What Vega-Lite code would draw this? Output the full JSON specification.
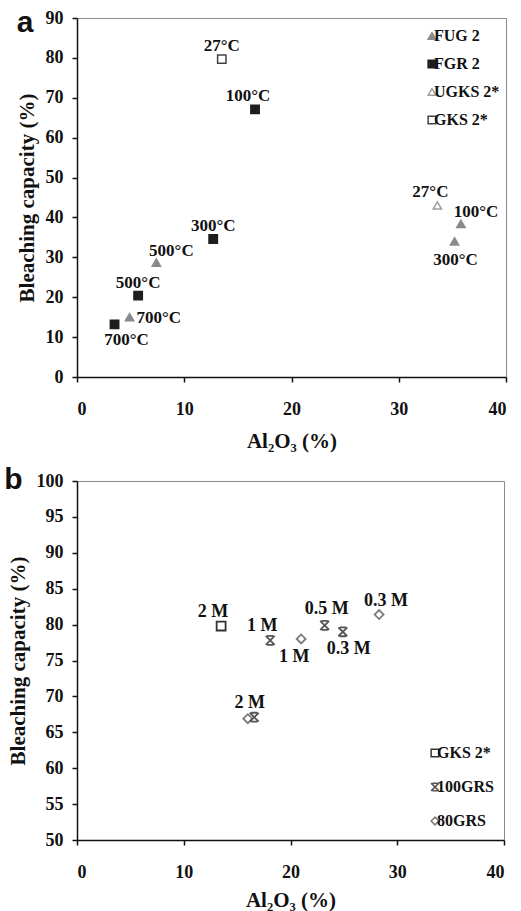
{
  "$schema": "https://vega.github.io/schema/vega-lite/v6.json",
  "background": "white",
  "padding": {"left": 3, "top": 7, "right": 0, "bottom": 0},
  "spacing": 12,
  "resolve": {
    "scale": {"shape": "independent", "fill": "independent", "stroke": "independent"},
    "legend": {"shape": "independent", "fill": "independent", "stroke": "independent"}
  },
  "config": {
    "view": {"stroke": "#8a8a8a", "strokeWidth": 1},
    "axis": {
      "grid": false,
      "domainColor": "#111",
      "domainWidth": 1.5,
      "tickColor": "#111",
      "tickWidth": 1.5,
      "tickSize": 5,
      "labelFont": "Liberation Serif",
      "labelFontWeight": "bold",
      "labelFontSize": 18,
      "labelColor": "#111",
      "titleFont": "Liberation Serif",
      "titleFontWeight": "bold",
      "titleFontSize": 21,
      "titleColor": "#111"
    },
    "legend": {
      "symbolSize": 60,
      "symbolStrokeWidth": 1.5,
      "labelFont": "Liberation Serif",
      "labelFontWeight": "bold",
      "labelFontSize": 16,
      "labelColor": "#111",
      "labelOffset": -6,
      "padding": 0
    },
    "text": {"font": "Liberation Serif", "fontSize": 17, "fontWeight": "bold", "color": "#111"}
  },
  "datasets": {
    "a": [
      {"series": "GKS 2*", "al2o3": 13.5, "bc": 79.7, "label": "27°C", "pos": "above"},
      {"series": "FGR 2", "al2o3": 16.6, "bc": 67.1, "label": "100°C", "pos": "aboveleft"},
      {"series": "FGR 2", "al2o3": 12.7, "bc": 34.6, "label": "300°C", "pos": "above"},
      {"series": "FGR 2", "al2o3": 5.7, "bc": 20.4, "label": "500°C", "pos": "above"},
      {"series": "FGR 2", "al2o3": 3.5, "bc": 13.2, "label": "700°C", "pos": "belowright"},
      {"series": "FUG 2", "al2o3": 7.4, "bc": 28.7, "label": "500°C", "pos": "aboveright"},
      {"series": "FUG 2", "al2o3": 4.9, "bc": 15.0, "label": "700°C", "pos": "right"},
      {"series": "FUG 2", "al2o3": 35.8, "bc": 38.4, "label": "100°C", "pos": "aboveright"},
      {"series": "FUG 2", "al2o3": 35.2, "bc": 34.0, "label": "300°C", "pos": "below"},
      {"series": "UGKS 2*", "al2o3": 33.6, "bc": 43.0, "label": "27°C", "pos": "aboveleft"}
    ],
    "b": [
      {"series": "GKS 2*", "al2o3": 13.5, "bc": 79.8, "label": "2 M", "pos": "aboveleft"},
      {"series": "80GRS", "al2o3": 16.0, "bc": 66.9, "label": "2 M", "pos": "above"},
      {"series": "100GRS", "al2o3": 16.6, "bc": 67.1, "label": "", "pos": "none"},
      {"series": "100GRS", "al2o3": 18.1, "bc": 77.8, "label": "1 M", "pos": "aboveleft"},
      {"series": "80GRS", "al2o3": 21.0, "bc": 78.0, "label": "1 M", "pos": "belowleft"},
      {"series": "100GRS", "al2o3": 23.2, "bc": 79.9, "label": "0.5 M", "pos": "above"},
      {"series": "100GRS", "al2o3": 24.9, "bc": 79.0, "label": "0.3 M", "pos": "belowright"},
      {"series": "80GRS", "al2o3": 28.3, "bc": 81.4, "label": "0.3 M", "pos": "aboveright"}
    ]
  },
  "vconcat": [
    {
      "width": 429,
      "height": 359,
      "title": {"text": "a", "orient": "left", "anchor": "end", "angle": 0, "align": "right", "baseline": "alphabetic", "font": "Liberation Sans", "fontSize": 30, "fontWeight": "bold", "color": "#111", "offset": -34, "dy": 23},
      "data": {"name": "a"},
      "encoding": {
        "x": {"field": "al2o3", "type": "quantitative", "scale": {"domain": [0, 40], "nice": false}, "axis": {"values": [0, 10, 20, 30, 40], "title": "Al₂O₃ (%)", "labelPadding": 18, "titlePadding": 12}},
        "y": {"field": "bc", "type": "quantitative", "scale": {"domain": [0, 90], "nice": false}, "axis": {"values": [0, 10, 20, 30, 40, 50, 60, 70, 80, 90], "title": "Bleaching capacity (%)", "labelPadding": 9, "titlePadding": 8}}
      },
      "layer": [
        {
          "mark": {"type": "point", "filled": true, "opacity": 1, "strokeWidth": 1.5, "size": 70},
          "encoding": {
            "shape": {"field": "series", "type": "nominal", "scale": {"domain": ["FUG 2", "FGR 2", "UGKS 2*", "GKS 2*"], "range": ["triangle-up", "square", "triangle-up", "square"]}, "legend": {"title": null, "orient": "none", "legendX": 347, "legendY": 10, "rowPadding": 12}},
            "fill": {"field": "series", "type": "nominal", "scale": {"domain": ["FUG 2", "FGR 2", "UGKS 2*", "GKS 2*"], "range": ["#8a8a8a", "#1e1e1e", "#ffffff", "#ffffff"]}, "legend": {"title": null, "orient": "none", "legendX": 347, "legendY": 10, "rowPadding": 12}},
            "stroke": {"field": "series", "type": "nominal", "scale": {"domain": ["FUG 2", "FGR 2", "UGKS 2*", "GKS 2*"], "range": ["#8a8a8a", "#1e1e1e", "#a0a0a0", "#444444"]}, "legend": {"title": null, "orient": "none", "legendX": 347, "legendY": 10, "rowPadding": 12}}
          }
        },
        {"transform": [{"filter": "datum.pos == 'above'"}], "mark": {"type": "text", "baseline": "middle", "align": "center", "dx": 0, "dy": -13}, "encoding": {"text": {"field": "label"}}},
        {"transform": [{"filter": "datum.pos == 'aboveleft'"}], "mark": {"type": "text", "baseline": "middle", "align": "center", "dx": -7, "dy": -13}, "encoding": {"text": {"field": "label"}}},
        {"transform": [{"filter": "datum.pos == 'aboveright'"}], "mark": {"type": "text", "baseline": "middle", "align": "center", "dx": 15, "dy": -12}, "encoding": {"text": {"field": "label"}}},
        {"transform": [{"filter": "datum.pos == 'below'"}], "mark": {"type": "text", "baseline": "middle", "align": "center", "dx": 1, "dy": 19}, "encoding": {"text": {"field": "label"}}},
        {"transform": [{"filter": "datum.pos == 'belowright'"}], "mark": {"type": "text", "baseline": "middle", "align": "center", "dx": 12, "dy": 16}, "encoding": {"text": {"field": "label"}}},
        {"transform": [{"filter": "datum.pos == 'right'"}], "mark": {"type": "text", "baseline": "middle", "align": "left", "dx": 7, "dy": 1}, "encoding": {"text": {"field": "label"}}}
      ]
    },
    {
      "width": 427,
      "height": 359,
      "title": {"text": "b", "orient": "left", "anchor": "end", "angle": 0, "align": "right", "baseline": "alphabetic", "font": "Liberation Sans", "fontSize": 30, "fontWeight": "bold", "color": "#111", "offset": -34, "dy": 17},
      "data": {"name": "b"},
      "encoding": {
        "x": {"field": "al2o3", "type": "quantitative", "scale": {"domain": [0, 40], "nice": false}, "axis": {"values": [0, 10, 20, 30, 40], "title": "Al₂O₃ (%)", "labelPadding": 18, "titlePadding": 8}},
        "y": {"field": "bc", "type": "quantitative", "scale": {"domain": [50, 100], "nice": false, "zero": false}, "axis": {"values": [50, 55, 60, 65, 70, 75, 80, 85, 90, 95, 100], "title": "Bleaching capacity (%)", "labelPadding": 9, "titlePadding": 8}}
      },
      "layer": [
        {
          "mark": {"type": "point", "filled": true, "opacity": 1, "strokeWidth": 1.8, "size": 80},
          "encoding": {
            "shape": {"field": "series", "type": "nominal", "scale": {"domain": ["GKS 2*", "100GRS", "80GRS"], "range": ["square", "M-1,-1L1,1M1,-1L-1,1M-0.7,-1L0.7,-1M-0.7,1L0.7,1", "diamond"]}, "legend": {"title": null, "orient": "none", "legendX": 350, "legendY": 264, "rowPadding": 18}},
            "fill": {"field": "series", "type": "nominal", "scale": {"domain": ["GKS 2*", "100GRS", "80GRS"], "range": ["#ffffff", "transparent", "#ffffff"]}, "legend": {"title": null, "orient": "none", "legendX": 350, "legendY": 264, "rowPadding": 18}},
            "stroke": {"field": "series", "type": "nominal", "scale": {"domain": ["GKS 2*", "100GRS", "80GRS"], "range": ["#333333", "#555555", "#7a7a7a"]}, "legend": {"title": null, "orient": "none", "legendX": 350, "legendY": 264, "rowPadding": 18}}
          }
        },
        {"transform": [{"filter": "datum.pos == 'above'"}], "mark": {"type": "text", "baseline": "middle", "align": "center", "fontSize": 18, "dx": 2, "dy": -16}, "encoding": {"text": {"field": "label"}}},
        {"transform": [{"filter": "datum.pos == 'aboveleft'"}], "mark": {"type": "text", "baseline": "middle", "align": "center", "fontSize": 18, "dx": -8, "dy": -14}, "encoding": {"text": {"field": "label"}}},
        {"transform": [{"filter": "datum.pos == 'aboveright'"}], "mark": {"type": "text", "baseline": "middle", "align": "center", "fontSize": 18, "dx": 7, "dy": -14}, "encoding": {"text": {"field": "label"}}},
        {"transform": [{"filter": "datum.pos == 'belowleft'"}], "mark": {"type": "text", "baseline": "middle", "align": "center", "fontSize": 18, "dx": -7, "dy": 18}, "encoding": {"text": {"field": "label"}}},
        {"transform": [{"filter": "datum.pos == 'belowright'"}], "mark": {"type": "text", "baseline": "middle", "align": "center", "fontSize": 18, "dx": 6, "dy": 17}, "encoding": {"text": {"field": "label"}}}
      ]
    }
  ]
}
